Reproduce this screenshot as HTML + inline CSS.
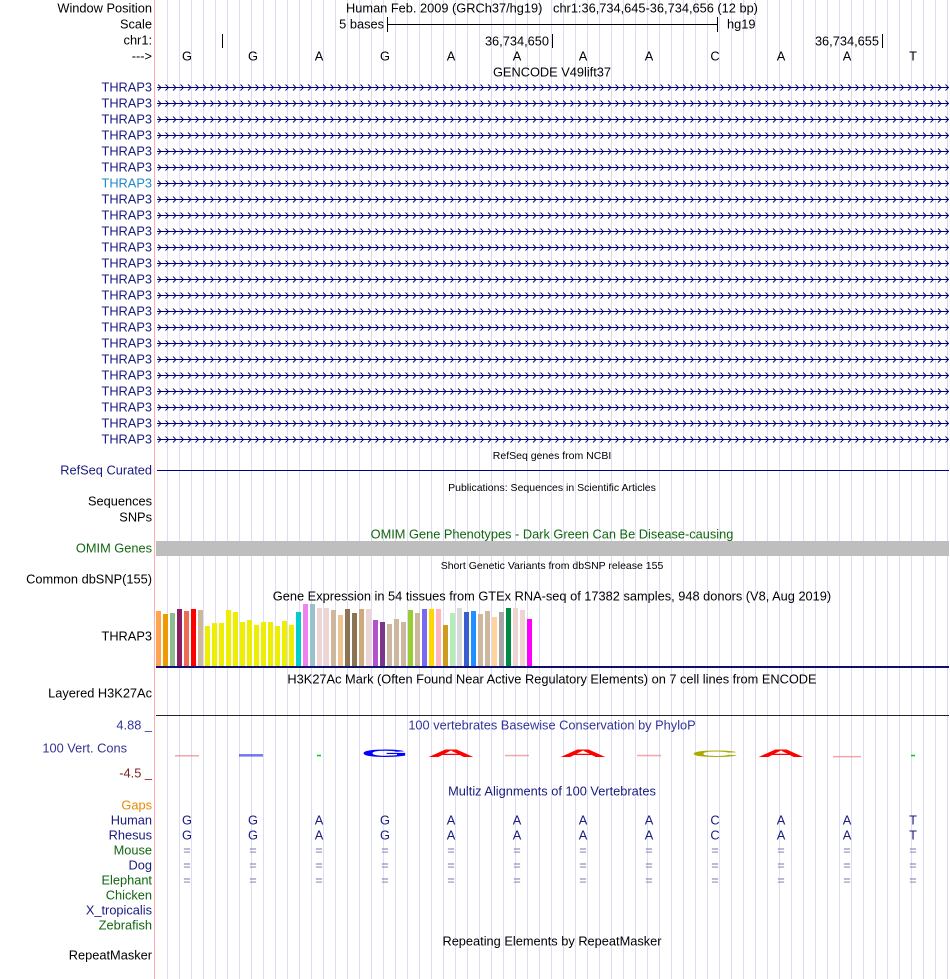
<!DOCTYPE html>
<html><head><meta charset="utf-8">
<style>
html,body{margin:0;padding:0;background:#fff;width:950px;height:979px;overflow:hidden}
svg{display:block;font-family:"Liberation Sans",Arial,sans-serif}
.l{font-size:12.8px;text-anchor:end;dominant-baseline:middle}
.c{font-size:12.8px;text-anchor:middle;dominant-baseline:middle}
.s{font-size:10.5px;text-anchor:middle;dominant-baseline:middle}
</style></head>
<body>
<svg id="g" width="950" height="979" viewBox="0 0 950 979">
<g id="grid"></g>
<line x1="154.5" y1="0" x2="154.5" y2="979" stroke="#FFAAAA" stroke-width="1"/>

<text class="l" x="152" y="9" fill="#000">Window Position</text>
<text class="l" x="152" y="25" fill="#000">Scale</text>
<text class="l" x="152" y="41" fill="#000">chr1:</text>
<text class="l" x="152" y="57" fill="#000">---&gt;</text>
<text class="c" x="552" y="9" fill="#000" xml:space="preserve">Human Feb. 2009 (GRCh37/hg19)   chr1:36,734,645-36,734,656 (12 bp)</text>
<text class="l" x="384" y="25" fill="#000">5 bases</text>
<line x1="387.5" y1="17" x2="387.5" y2="32" stroke="#000"/>
<line x1="387" y1="24.5" x2="718" y2="24.5" stroke="#000"/>
<line x1="717.5" y1="17" x2="717.5" y2="32" stroke="#000"/>
<text x="727" y="25" font-size="12.8" dominant-baseline="middle" fill="#000">hg19</text>
<line x1="222.5" y1="34" x2="222.5" y2="48" stroke="#000"/>
<line x1="552.5" y1="34" x2="552.5" y2="48" stroke="#000"/>
<text class="l" x="549" y="42" fill="#000">36,734,650</text>
<line x1="882.5" y1="34" x2="882.5" y2="48" stroke="#000"/>
<text class="l" x="879" y="42" fill="#000">36,734,655</text>
<g id="bases"></g>
<text class="c" x="552" y="73" fill="#000">GENCODE V49lift37</text>
<g id="genes"></g>

<text class="s" x="552" y="456" fill="#000">RefSeq genes from NCBI</text>
<text class="l" x="152" y="471" fill="#1A1A80">RefSeq Curated</text>
<line x1="157" y1="470.5" x2="949" y2="470.5" stroke="#000080"/>

<text class="s" x="552" y="488" fill="#000">Publications: Sequences in Scientific Articles</text>
<text class="l" x="152" y="502" fill="#000">Sequences</text>
<text class="l" x="152" y="518" fill="#000">SNPs</text>

<text class="c" x="552" y="535" fill="#116611">OMIM Gene Phenotypes - Dark Green Can Be Disease-causing</text>
<text class="l" x="152" y="549" fill="#116611">OMIM Genes</text>
<rect x="156" y="541" width="793" height="15" fill="#BEBEBE"/>

<text class="s" x="552" y="566" fill="#000">Short Genetic Variants from dbSNP release 155</text>
<text class="l" x="152" y="580" fill="#000">Common dbSNP(155)</text>

<text class="c" x="552" y="597" fill="#000">Gene Expression in 54 tissues from GTEx RNA-seq of 17382 samples, 948 donors (V8, Aug 2019)</text>
<text class="l" x="152" y="637" fill="#000">THRAP3</text>
<g id="gtex"></g>
<rect x="156" y="666" width="793" height="2" fill="#0F0F6E"/>

<text class="c" x="552" y="680" fill="#000">H3K27Ac Mark (Often Found Near Active Regulatory Elements) on 7 cell lines from ENCODE</text>
<text class="l" x="152" y="694" fill="#000">Layered H3K27Ac</text>
<line x1="156" y1="715.5" x2="949" y2="715.5" stroke="#222"/>

<text class="l" x="152" y="726" fill="#333399">4.88 _</text>
<text class="l" x="127" y="749" fill="#333399">100 Vert. Cons</text>
<text class="l" x="152" y="774" fill="#7F1F1F">-4.5 _</text>
<text class="c" x="552" y="726" fill="#333399">100 vertebrates Basewise Conservation by PhyloP</text>
<g id="logo"></g>

<text class="c" x="552" y="792" fill="#1A1A80">Multiz Alignments of 100 Vertebrates</text>
<g id="species"></g>
<g id="aln"></g>

<text class="c" x="552" y="942" fill="#000">Repeating Elements by RepeatMasker</text>
<text class="l" x="152" y="956" fill="#000">RepeatMasker</text>
</svg>
<script>
// ---- data ----
const bases = ['G','G','A','G','A','A','A','A','C','A','A','T'];
const rhesus = ['G','G','A','G','A','A','A','A','C','A','A','T'];
const tissues = ['Adipose Sub','Adipose Visc','Adrenal','Artery Aorta','Artery Coronary','Artery Tibial','Bladder','Brain Amygdala','Brain ACC','Brain Caudate','Brain Cerebellar','Brain Cerebellum','Brain Cortex','Brain FC','Brain Hippocampus','Brain Hypothalamus','Brain Nucleus Acc','Brain Putamen','Brain Spinal','Brain Substantia','Breast','Cells Fibroblasts','Cells EBV','Cervix Ecto','Cervix Endo','Colon Sigmoid','Colon Transverse','Esoph GJ','Esoph Mucosa','Esoph Muscularis','Fallopian','Heart Atrial','Heart LV','Kidney Cortex','Kidney Medulla','Liver','Lung','Salivary','Muscle','Nerve Tibial','Ovary','Pancreas','Pituitary','Prostate','Skin NoSun','Skin Sun','Small Intestine','Spleen','Stomach','Testis','Thyroid','Uterus','Vagina','Whole Blood'];
const gtexValues = [55,52,53,57,55,57,56,40,43,43,56,54,44,46,41,44,44,40,45,41,54,62,62,58,58,56,51,57,53,57,57,46,44,42,47,44,56,53,57,57,57,41,53,58,54,55,52,55,49,54,58,58,56,47];
const gtexColors = ['#FFA54F','#EE9A00','#8FBC8F','#8B1C62','#EE6A50','#FF0000','#CDB79E','#EEEE00','#EEEE00','#EEEE00','#EEEE00','#EEEE00','#EEEE00','#EEEE00','#EEEE00','#EEEE00','#EEEE00','#EEEE00','#EEEE00','#EEEE00','#00CDCD','#EE82EE','#9AC0CD','#EED5D2','#EED5D2','#CDB79E','#EEC591','#8B7355','#8B7355','#CDAA7D','#EED5D2','#B452CD','#7A378B','#CDB79E','#CDB79E','#CDB79E','#9ACD32','#CDB79E','#7B68EE','#FFD700','#FFB6C1','#CD9B1D','#B4EEB4','#D9D9D9','#3A5FCD','#1E90FF','#CDB79E','#CDB79E','#FFD39B','#A6A6A6','#008B45','#EED5D2','#EED5D2','#FF00FF'];
const phylop = [0.1,0.3,0.2,3.6,3.6,0.2,3.6,0.2,3.0,3.6,-0.3,0.2];
const logoLetters = ['-','-','-','G','A','-','A','-','C','A','-','-'];
const dashColors = ['#F08080','#3A3AE0','#00CC00','#0000FF','#FF0000','#F08080','#FF0000','#F08080','#AAAA00','#FF0000','#F08080','#00CC00'];
const speciesNames = ['Gaps','Human','Rhesus','Mouse','Dog','Elephant','Chicken','X_tropicalis','Zebrafish'];
const speciesColors = ['#E88A00','#1A1A80','#1A1A80','#116611','#1A1A80','#116611','#116611','#1A1A80','#116611'];
const geneCount = 23;

const NS='http://www.w3.org/2000/svg';
function mk(tag,parent,attrs){const e=document.createElementNS(NS,tag);for(const k in attrs)e.setAttribute(k,attrs[k]);parent.appendChild(e);return e;}
const baseX = i => 187 + 66*i;

const grid=document.getElementById('grid');
for(let x=167.5;x<950;x+=12){
  const ln=mk('line',grid,{x1:x,y1:0,x2:x,y2:979,stroke:'#DCDCF4','stroke-width':1});
  
  
}
const bg=document.getElementById('bases');
bases.forEach((b,i)=>{
  const t=mk('text',bg,{class:'c',x:baseX(i),y:57,fill:'#000'});t.textContent=b;
  
  
});
// genes
let chev='';
for(let x=158;x<947;x+=7.5){chev+='M'+x.toFixed(1)+',-3L'+(x+3).toFixed(1)+',0L'+x.toFixed(1)+',3';}
const gg=document.getElementById('genes');
for(let i=0;i<geneCount;i++){
  const y=88+16*i;
  const col = i===6 ? '#1E88C8' : '#1A1A80';
  const t=mk('text',gg,{class:'l',x:152,y:y,fill:col});t.textContent='THRAP3';
  
  
  const ln=mk('line',gg,{x1:157,y1:y-0.5,x2:949,y2:y-0.5,stroke:'#000080'});
  
  
  const p=mk('path',gg,{d:chev,fill:'none',stroke:'#000080','stroke-width':0.9,transform:'translate(0,'+(y-0.5)+')'});
  
  
}
// gtex
const gt=document.getElementById('gtex');
const gBase=666, gStep=7, gX=156;
gtexValues.forEach((v,i)=>{
  const r=mk('rect',gt,{x:gX+gStep*i,y:gBase-v,width:5,height:v,fill:gtexColors[i]});
  
  
});
// phylop logo
const lg=document.getElementById('logo');
const lBase=757, lScale=2.2;
phylop.forEach((v,i)=>{
  const L=logoLetters[i], cx=baseX(i);
  if(L==='-'){
    const y = lBase - 1 - v*lScale;
    const w = (i===2||i===11) ? 4 : (i===10 ? 28 : 24);
    const h = i===1 ? 2.5 : 1.5;
    const r=mk('rect',lg,{x:cx-w/2+(i===1?-2:0),y:y-h/2,width:w,height:h,fill:dashColors[i],opacity:(i===2||i===11)?1:0.7});
    
    
  } else {
    const h=v*lScale;
    const t=mk('text',lg,{x:cx-24,y:lBase,fill:dashColors[i],'font-size':(h*1.38).toFixed(1),'font-weight':'bold',textLength:48,lengthAdjust:'spacingAndGlyphs'});
    t.textContent=L;
    
    
  }
});
const sp=document.getElementById('species');
speciesNames.forEach((n,i)=>{
  const t=mk('text',sp,{class:'l',x:152,y:806+15*i,fill:speciesColors[i]});t.textContent=n;
  
  
});
const al=document.getElementById('aln');
bases.forEach((b,i)=>{
  const x=baseX(i);
  [[b,821,'#1A1A80'],[rhesus[i],836,'#1A1A80'],['=',851,'#7777AA'],['=',866,'#7777AA'],['=',881,'#7777AA']].forEach(([c,y,col])=>{
    const t=mk('text',al,{class:'c',x:x,y:y,fill:col});t.textContent=c;
    
    
  });
});
</script>
</body></html>
